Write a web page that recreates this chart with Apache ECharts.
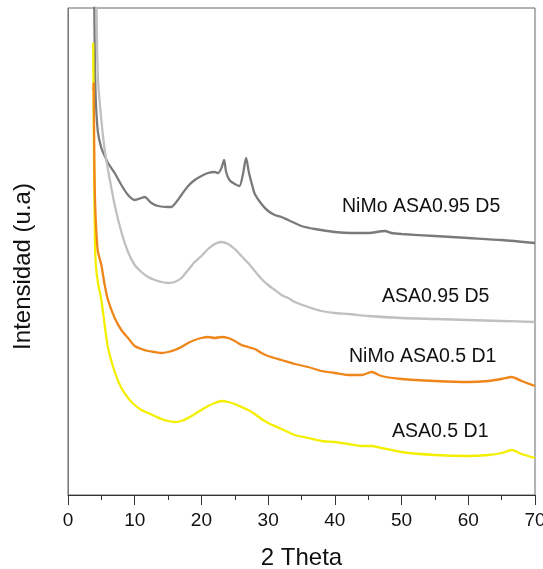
<!DOCTYPE html>
<html>
<head>
<meta charset="utf-8">
<script src="https://cdn.jsdelivr.net/npm/echarts@6/dist/echarts.min.js"></script>
<style>
  html, body { margin: 0; padding: 0; background: #fff; }
  #main { width: 543px; height: 569px; }
</style>
</head>
<body>
<div id="main"></div>
<script>
// 2 Theta (x) and intensity (u.a)
var nimo095X = [3.85, 3.95, 4.05, 4.2, 4.5, 5, 5.5, 6, 7, 8, 9, 10, 11, 11.5, 12.5, 13.5, 15, 15.5, 16, 17, 18, 19, 20, 21, 22, 22.5, 23.0, 23.4, 23.7, 24.2, 25, 25.7, 26.2, 26.7, 27.1, 27.6, 28, 29, 30, 31, 32, 33, 35, 37, 40, 42.5, 45, 47.5, 48.5, 50, 55, 60, 65, 70];
var nimo095Y = [595, 485, 425, 390, 362, 347, 339, 332, 322, 310, 300, 295, 297, 298, 292, 289, 288, 288, 291, 300, 309, 315, 319, 322, 323, 322, 327, 335, 323, 315, 311, 309, 320, 337, 323, 310, 301, 291, 284, 280, 278, 275, 269, 266, 263, 262, 262, 264, 262, 261, 259, 257, 255, 252];

var asa095X = [4.15, 4.3, 4.5, 5, 5.5, 6, 7, 8, 9, 10, 11, 12, 13, 14, 15, 16, 17, 18, 19, 20, 21, 22, 23, 24, 25, 26, 27, 28, 29, 30, 31, 32, 33, 34, 36, 38, 40, 42, 45, 50, 55, 60, 65, 70];
var asa095Y = [595, 475, 415, 375, 345, 325, 290, 263, 243, 230, 223, 218, 215, 213, 212, 213, 217, 225, 233, 239, 246, 251, 253, 251, 246, 239, 232, 224, 216, 210, 205, 200, 197, 193, 188, 184, 182, 181, 179, 177, 176, 175, 174, 173];

var nimo05X = [3.8, 3.85, 3.95, 4.1, 4.45, 5, 5.5, 6, 7, 8, 9, 10, 11, 12, 13, 14, 15, 16, 17, 18, 19, 20, 21, 22, 23, 24, 25, 26, 27, 28, 29, 30, 32, 34, 36, 38, 40, 42, 44, 45.5, 47, 50, 55, 60, 63, 65, 66.5, 68, 70];
var nimo05Y = [405, 412, 330, 285, 245, 230, 210, 195, 177, 165, 157, 149, 146, 144, 143, 142, 143, 145, 148, 152, 155, 157, 158, 157, 158, 157, 154, 150, 148, 146, 142, 139, 135, 131, 128, 124, 122, 120, 120, 123, 119, 116, 114, 113, 114, 116, 118, 114, 109];

var asa05X = [3.78, 3.85, 3.95, 4.05, 4.2, 4.5, 5, 5.5, 6, 7, 8, 9, 10, 11, 12, 13, 14, 15, 16, 17, 18, 19, 20, 21, 22, 23, 24, 25, 26, 27, 28, 29, 30, 32, 34, 36, 38, 40, 42, 44, 45.5, 47, 50, 55, 60, 63, 65, 66.5, 68, 70];
var asa05Y = [452, 380, 300, 250, 228, 212, 195, 170, 147, 123, 107, 97, 90, 85, 82, 79, 76, 74, 73, 74, 77, 81, 85, 89, 92, 94, 93, 91, 88, 85, 81, 76, 72, 66, 60, 57, 54, 53, 51, 49, 49, 47, 43, 40, 39, 40, 42, 45, 41, 37];

var xTicks = [0, 10, 20, 30, 40, 50, 60, 70];

function pares(xs, ys) {
    var out = [];
    for (var i = 0; i < xs.length; i++) out.push([xs[i], ys[i]]);
    return out;
}

var myChart = echarts.init(document.getElementById('main'));

function serie(nombre, xs, ys, color) {
    return {
        name: nombre,
        type: 'line',
        data: pares(xs, ys),
        showSymbol: false,
        smooth: 0.25,
        lineStyle: { color: color, width: 2.3 },
        clip: true
    };
}

var fuente = 'Liberation Sans, Arial, sans-serif';
var etiqueta = { fontFamily: fuente, fontSize: 19.5, fill: '#111' };

var option = {
    animation: false,
    grid: {
        left: 68, right: 8, top: 8, bottom: 74,
        outerBoundsMode: 'none', // que no encoja el grid por el nombre del eje
        show: true, borderColor: '#666', borderWidth: 1
    },
    xAxis: {
        type: 'value',
        min: xTicks[0],
        max: xTicks[xTicks.length - 1],
        interval: 10,
        name: '2 Theta',
        nameLocation: 'middle',
        nameGap: 51,
        nameTextStyle: { fontFamily: fuente, fontSize: 24, color: '#111' },
        axisLine: { lineStyle: { color: '#333', width: 1 } },
        axisTick: { length: 10, lineStyle: { color: '#333' } },
        minorTick: { show: true, splitNumber: 2, length: 5, lineStyle: { color: '#333' } },
        splitLine: { show: false },
        axisLabel: { fontFamily: fuente, fontSize: 19, color: '#111', margin: 16 }
    },
    yAxis: {
        type: 'value',
        min: 0,
        max: 487,
        name: 'Intensidad (u.a)',
        nameLocation: 'middle',
        nameGap: 33,
        nameRotate: 90,
        nameTextStyle: { fontFamily: fuente, fontSize: 24, color: '#111', padding: [0, 30, 0, 0] },
        axisLine: { show: true, lineStyle: { color: '#777' } },
        axisTick: { show: false },
        axisLabel: { show: false },
        splitLine: { show: false }
    },
    series: [
        serie('NiMo ASA0.95 D5', nimo095X, nimo095Y, '#7a7a7a'),
        serie('ASA0.95 D5', asa095X, asa095Y, '#c0c0c0'),
        serie('ASA0.5 D1', asa05X, asa05Y, '#f4ef00'),
        serie('NiMo ASA0.5 D1', nimo05X, nimo05Y, '#ef8619')
    ],
    graphic: [
        { type: 'text', left: 342, top: 197, style: Object.assign({ text: 'NiMo ASA0.95 D5' }, etiqueta) },
        { type: 'text', left: 382, top: 287, style: Object.assign({ text: 'ASA0.95 D5' }, etiqueta) },
        { type: 'text', left: 349, top: 347, style: Object.assign({ text: 'NiMo ASA0.5 D1' }, etiqueta) },
        { type: 'text', left: 392, top: 422, style: Object.assign({ text: 'ASA0.5 D1' }, etiqueta) }
    ]
};

myChart.setOption(option);
</script>
</body>
</html>
